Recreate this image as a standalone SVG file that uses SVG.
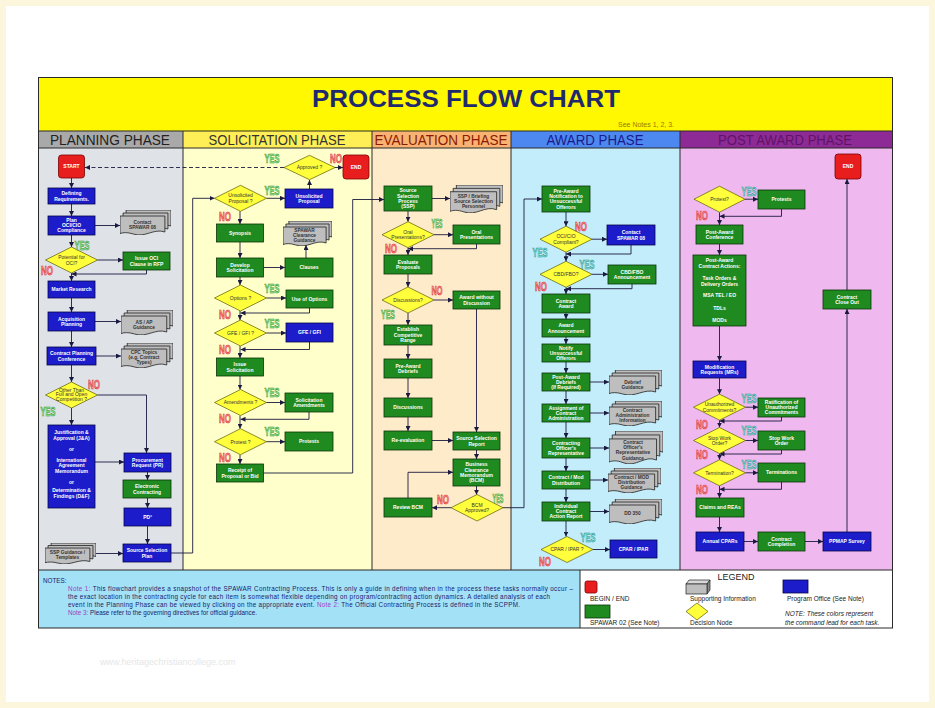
<svg xmlns="http://www.w3.org/2000/svg" width="935" height="708" viewBox="0 0 935 708">
<style>
.b{fill:#1C1CCB;stroke:#05054A;stroke-width:.8}
.g{fill:#1F8A1F;stroke:#0A330A;stroke-width:.8}
.r{fill:#E81E1E;stroke:#7A0000;stroke-width:.8}
.d{fill:#FFFF3C;stroke:#5A5A00;stroke-width:.7}
.dl{fill:#BEBEBE;stroke:#222;stroke-width:.8}
.t{font-family:"Liberation Sans",Arial,sans-serif;font-size:5px;font-weight:bold;fill:#fff;text-anchor:middle}
.td{font-family:"Liberation Sans",Arial,sans-serif;font-size:5px;fill:#333;text-anchor:middle}
.tg{font-family:"Liberation Sans",Arial,sans-serif;font-size:4.8px;font-weight:bold;fill:#333;text-anchor:middle}
.c{fill:none;stroke:#1A1A40;stroke-width:.9;marker-end:url(#a)}
.lb{font-family:"Liberation Sans",Arial,sans-serif;font-weight:bold;font-size:13px;stroke-width:.6;text-anchor:middle}
.yes{fill:#9CEB8C;stroke:#2E8B2E}
.no{fill:#FF9C9C;stroke:#D42020}
.yt{fill:#8CE8D8;stroke:#1F8B8B}
.ph{font-family:"Liberation Sans",Arial,sans-serif;font-size:14px;text-anchor:middle}
.nt{font-family:"Liberation Sans",Arial,sans-serif;font-size:6.3px;fill:#1A1A6A}
.nk{fill:#A040C0}
.lg{font-family:"Liberation Sans",Arial,sans-serif;font-size:6.5px;fill:#222}
</style>
<defs>
<marker id="a" viewBox="0 0 6 6" refX="6" refY="3" markerWidth="5" markerHeight="5" markerUnits="userSpaceOnUse" orient="auto"><path d="M0,0 L6,3 L0,6 Z" fill="#1A1A40"/></marker>
<symbol id="doc" viewBox="0 0 100 50" preserveAspectRatio="none">
<path class="dl" vector-effect="non-scaling-stroke" transform="translate(12,0)" d="M0,0 H88 V32 C66,24 50,44 26,36 C14,32 6,33 0,35 Z"/>
<path class="dl" vector-effect="non-scaling-stroke" transform="translate(6,6)" d="M0,0 H88 V32 C66,24 50,44 26,36 C14,32 6,33 0,35 Z"/>
<path class="dl" vector-effect="non-scaling-stroke" transform="translate(0,12)" d="M0,0 H88 V32 C66,24 50,44 26,36 C14,32 6,33 0,35 Z"/>
</symbol>
</defs>

<rect x="0" y="0" width="935" height="708" fill="#fff"/>
<rect x="3" y="3" width="929" height="702" fill="none" stroke="#FBF6DC" stroke-width="6"/>
<text x="100" y="665" font-family="Liberation Sans, Arial, sans-serif" font-size="9" fill="#E6E6E6">www.heritagechristiancollege.com</text>

<!-- title -->
<rect x="38.5" y="77.5" width="854" height="53.5" fill="#FFF800"/>
<text x="466" y="107" font-family="Liberation Sans, Arial, sans-serif" font-size="24" font-weight="bold" fill="#1F2A6E" text-anchor="middle" textLength="308" lengthAdjust="spacingAndGlyphs">PROCESS FLOW CHART</text>
<text x="618" y="126.5" font-family="Liberation Sans, Arial, sans-serif" font-size="7" fill="#9A7A00">See Notes 1, 2, 3.</text>

<!-- phase headers -->
<rect x="38.5" y="131" width="144.5" height="17" fill="#A9A9A9"/>
<rect x="183" y="131" width="189" height="17" fill="#FFEE55"/>
<rect x="372" y="131" width="139" height="17" fill="#F8B373"/>
<rect x="511" y="131" width="169" height="17" fill="#4D88F0"/>
<rect x="680" y="131" width="212.5" height="17" fill="#8E2A95"/>
<text class="ph" x="110" y="144.5" fill="#222" textLength="120" lengthAdjust="spacingAndGlyphs">PLANNING PHASE</text>
<text class="ph" x="277" y="144.5" fill="#333" textLength="137" lengthAdjust="spacingAndGlyphs">SOLICITATION PHASE</text>
<text class="ph" x="441" y="144.5" fill="#8B1A00" textLength="133" lengthAdjust="spacingAndGlyphs">EVALUATION PHASE</text>
<text class="ph" x="595" y="144.5" fill="#1A1A8C" textLength="97" lengthAdjust="spacingAndGlyphs">AWARD PHASE</text>
<text class="ph" x="785" y="144.5" fill="#5E1466" textLength="134" lengthAdjust="spacingAndGlyphs">POST AWARD PHASE</text>

<!-- column bodies -->
<rect x="38.5" y="148" width="144.5" height="422" fill="#DFE3E7"/>
<rect x="183" y="148" width="189" height="422" fill="#FFFFCC"/>
<rect x="372" y="148" width="139" height="422" fill="#FDEBC9"/>
<rect x="511" y="148" width="169" height="422" fill="#C3EDFA"/>
<rect x="680" y="148" width="212.5" height="422" fill="#EFB9EF"/>

<!-- notes / legend -->
<rect x="38.5" y="570" width="541.5" height="58" fill="#A3E1F7"/>
<rect x="580" y="570" width="312.5" height="58" fill="#fff"/>

<g fill="none" stroke="#2A2A2A" stroke-width="1">
<line x1="38.5" y1="131" x2="892.5" y2="131"/>
<line x1="38.5" y1="148" x2="892.5" y2="148"/>
<line x1="38.5" y1="570" x2="892.5" y2="570"/>
<line x1="183" y1="131" x2="183" y2="570"/>
<line x1="372" y1="131" x2="372" y2="570"/>
<line x1="511" y1="131" x2="511" y2="570"/>
<line x1="680" y1="131" x2="680" y2="570"/>
<line x1="580" y1="570" x2="580" y2="628"/>
<rect x="38.5" y="77.5" width="854" height="550.5"/>
</g>

<text class="nt" x="43" y="583">NOTES:</text>
<text class="nt" x="68" y="591" textLength="505"><tspan class="nk">Note 1:</tspan>  This flowchart provides a snapshot of the SPAWAR Contracting Process. This is only a guide in defining when in the process these tasks normally occur –</text>
<text class="nt" x="68" y="599" textLength="482">the exact location in the contracting cycle for each item is somewhat flexible depending on program/contracting action dynamics.  A detailed analysis of each</text>
<text class="nt" x="68" y="607" textLength="452">event in the Planning Phase can be viewed by clicking on the appropriate event. <tspan class="nk">Note 2:</tspan>  The Official Contracting Process is defined in the SCPPM.</text>
<text class="nt" x="68" y="615"><tspan class="nk">Note 3:</tspan>  Please refer to the governing directives for official guidance.</text>

<g id="legend">
<text x="736" y="580" font-family="Liberation Sans, Arial, sans-serif" font-size="9" fill="#222" text-anchor="middle">LEGEND</text>
<rect class="r" x="585" y="581" width="12" height="12" rx="2"/>
<text class="lg" x="590" y="601">BEGIN / END</text>
<path d="M686,584 L689,580 H710 L707,584 Z" fill="#D8D8D8" stroke="#222" stroke-width=".7"/>
<path d="M707,584 L710,580 V590 L707,594 Z" fill="#888" stroke="#222" stroke-width=".7"/>
<rect x="686" y="584" width="21" height="10" fill="#BEBEBE" stroke="#222" stroke-width=".7"/>
<text class="lg" x="690" y="601">Supporting Information</text>
<rect class="b" x="783" y="580" width="25" height="13"/>
<text class="lg" x="787" y="601">Program Office (See Note)</text>
<rect class="g" x="585" y="605" width="25" height="13"/>
<text class="lg" x="590" y="625">SPAWAR 02 (See Note)</text>
<polygon class="d" points="697,603 708,611.5 697,620 686,611.5"/>
<text class="lg" x="690" y="625">Decision Node</text>
<text class="lg" x="785" y="616" font-style="italic" font-size="6">NOTE:  These colors represent</text>
<text class="lg" x="785" y="624.5" font-style="italic" font-size="6">the command lead for each task.</text>
</g>

<!-- connectors -->
<g id="connectors">
<path class="c" d="M71.5,178 V188"/>
<path class="c" d="M71.5,204 V216"/>
<path class="c" d="M95,225.5 H120"/>
<path class="c" d="M71.5,235 V247"/>
<path class="c" d="M97.5,260 H123"/>
<path class="c" d="M146.5,270 V274 H71.5"/>
<path class="c" d="M71.5,273 V281"/>
<path class="c" d="M71.5,298 V312"/>
<path class="c" d="M95,321.5 H121"/>
<path class="c" d="M71.5,331 V347"/>
<path class="c" d="M96,356 H121"/>
<path class="c" d="M71.5,365 V382"/>
<path class="c" d="M97.5,395 H146.5 V453"/>
<path class="c" d="M71.5,408 V425"/>
<path class="c" d="M95,462 H124"/>
<path class="c" d="M147.5,472 V480"/>
<path class="c" d="M147.5,498 V508"/>
<path class="c" d="M147.5,526 V544"/>
<path class="c" d="M96,553.5 H123"/>
<path class="c" d="M171,553 H192.7 V198.3 H214.5"/>
<path class="c" d="M284,167.5 H85" stroke-dasharray="4 2.5"/>

<path class="c" d="M335,167.5 H343"/>
<path class="c" d="M309.5,189 V180"/>
<path class="c" d="M266.5,198.3 H285"/>
<path class="c" d="M240,211.3 V224"/>
<path class="c" d="M240,242 V258"/>
<path class="c" d="M263.5,267.5 H285"/>
<path class="c" d="M306,258 V245"/>
<path class="c" d="M240,277 V285"/>
<path class="c" d="M266.5,298 H286"/>
<path class="c" d="M309.5,308 V313 H240.5"/>
<path class="c" d="M240,311 V320"/>
<path class="c" d="M266.5,333 H286"/>
<path class="c" d="M309.5,342 V349.5 H240.5"/>
<path class="c" d="M240,346 V358"/>
<path class="c" d="M240,376 V389.5"/>
<path class="c" d="M266.5,402.5 H285"/>
<path class="c" d="M309,412 V419.3 H240.5"/>
<path class="c" d="M240,415.5 V428.7"/>
<path class="c" d="M266.5,441.7 H285"/>
<path class="c" d="M240,454.7 V464"/>
<path class="c" d="M263.5,473 H352.7 V199.5 H384"/>

<path class="c" d="M432,198.5 H450"/>
<path class="c" d="M408,211 V221.7"/>
<path class="c" d="M434,234.7 H453"/>
<path class="c" d="M476.5,244 V248.7 H408"/>
<path class="c" d="M408,247.7 V255"/>
<path class="c" d="M408,274 V287"/>
<path class="c" d="M434,300 H453"/>
<path class="c" d="M408,313 V325"/>
<path class="c" d="M408,345 V359"/>
<path class="c" d="M408,378 V398"/>
<path class="c" d="M408,417 V431"/>
<path class="c" d="M432,440.5 H453"/>
<path class="c" d="M476.5,309 V432"/>
<path class="c" d="M476.5,450 V459"/>
<path class="c" d="M476.5,486 V494.7"/>
<path class="c" d="M451,507.7 H432"/>
<path class="c" d="M408,498 V472.3 H453"/>
<path class="c" d="M503,507.7 H524 V199 H542"/>

<path class="c" d="M566,212 V226.2"/>
<path class="c" d="M592,239.2 H607"/>
<path class="c" d="M631,245 V254 H566"/>
<path class="c" d="M566,252.2 V261.3"/>
<path class="c" d="M592,274.3 H608"/>
<path class="c" d="M632,284 V288.7 H566"/>
<path class="c" d="M566,287.3 V294"/>
<path class="c" d="M566,313 V319"/>
<path class="c" d="M566,337 V344"/>
<path class="c" d="M566,362 V373"/>
<path class="c" d="M590,382 H609"/>
<path class="c" d="M566,391 V404"/>
<path class="c" d="M590,413 H609"/>
<path class="c" d="M566,422 V438"/>
<path class="c" d="M590,448 H609"/>
<path class="c" d="M566,458 V471"/>
<path class="c" d="M590,480 H608"/>
<path class="c" d="M566,489 V502"/>
<path class="c" d="M590,511.5 H609"/>
<path class="c" d="M566,521 V536.5"/>
<path class="c" d="M593,549.5 H610"/>

<path class="c" d="M745,199.2 H758"/>
<path class="c" d="M781.5,209 V216.3 H719.5"/>
<path class="c" d="M719.5,212.2 V225"/>
<path class="c" d="M719.5,244 V255"/>
<path class="c" d="M719.5,326 V361"/>
<path class="c" d="M719.5,378 V394.2"/>
<path class="c" d="M745.5,407.2 H758"/>
<path class="c" d="M781.5,417 V421 H719.5"/>
<path class="c" d="M719.5,420.2 V427.5"/>
<path class="c" d="M745.5,440.5 H758"/>
<path class="c" d="M781.5,450 V454 H719.5"/>
<path class="c" d="M719.5,453.5 V459.8"/>
<path class="c" d="M745.5,472.8 H758"/>
<path class="c" d="M781.5,482 V489.3 H719.5"/>
<path class="c" d="M719.5,485.8 V498"/>
<path class="c" d="M719.5,517 V532"/>
<path class="c" d="M744,541.5 H758"/>
<path class="c" d="M805,541.5 H823"/>
<path class="c" d="M847,532 V309"/>
<path class="c" d="M847,290 V179"/>
</g>

<!-- PLANNING -->
<g id="start"><rect class="r" x="58.5" y="155" width="26" height="23" rx="3"/><text class="t" x="71.5" y="168.3">START</text></g>
<g id="def-req"><rect class="b" x="48" y="188" width="47" height="16"/><text class="t" x="71.5" y="195">Defining<tspan x="71.5" dy="5.6">Requirements.</tspan></text></g>
<g id="plan-oci"><rect class="b" x="48" y="216" width="47" height="19"/><text class="t" x="71.5" y="221.5">Plan<tspan x="71.5" dy="5.4">OCI/CIO</tspan><tspan x="71.5" dy="5.4">Compliance</tspan></text></g>
<g id="doc-contact"><use href="#doc" x="120" y="210" width="51" height="25"/><text class="tg" x="142.5" y="223.5">Contact<tspan x="142.5" dy="5.6">SPAWAR 08</tspan></text></g>
<g id="dec-oci"><polygon class="d" points="71.5,247 97.5,260 71.5,273 45.5,260"/><text class="td" x="71.5" y="259">Potential for<tspan x="71.5" dy="5.6">OCI?</tspan></text></g>
<g id="issue-oci"><rect class="g" x="123" y="252" width="47" height="18"/><text class="t" x="146.5" y="260">Issue OCI<tspan x="146.5" dy="5.6">Clause in RFP</tspan></text></g>
<g id="market"><rect class="b" x="48" y="281" width="47" height="17"/><text class="t" x="71.5" y="291.3">Market Research</text></g>
<g id="acq"><rect class="b" x="48" y="312" width="47" height="19"/><text class="t" x="71.5" y="320.5">Acquisition<tspan x="71.5" dy="5.6">Planning</tspan></text></g>
<g id="doc-asap"><use href="#doc" x="121" y="310" width="52" height="25"/><text class="tg" x="144" y="323.5">AS / AP<tspan x="144" dy="5.6">Guidance</tspan></text></g>
<g id="cpc"><rect class="b" x="47" y="347" width="49" height="18"/><text class="t" x="71.5" y="355">Contract Planning<tspan x="71.5" dy="5.6">Conference</tspan></text></g>
<g id="doc-cpc"><use href="#doc" x="121" y="343" width="52" height="25"/><text class="tg" x="144" y="354">CPC Topics<tspan x="144" dy="5.2">(e.g. Contract</tspan><tspan x="144" dy="5.2">Types)</tspan></text></g>
<g id="dec-foc"><polygon class="d" points="71.5,382 97.5,395 71.5,408 45.5,395"/><text class="td" x="71.5" y="391.5" font-size="4.2">Other Than<tspan x="71.5" dy="4.8">Full and Open</tspan><tspan x="71.5" dy="4.8">Competition ?</tspan></text></g>
<g id="jna"><rect class="b" x="48" y="425" width="47" height="83"/><text class="t" x="71.5" y="434">Justification &amp;<tspan x="71.5" dy="6">Approval (J&amp;A)</tspan><tspan x="71.5" dy="11">or</tspan><tspan x="71.5" dy="10.5">International</tspan><tspan x="71.5" dy="5.5">Agreement</tspan><tspan x="71.5" dy="5.5">Memorandum</tspan><tspan x="71.5" dy="11">or</tspan><tspan x="71.5" dy="8.5">Determination &amp;</tspan><tspan x="71.5" dy="6">Findings (D&amp;F)</tspan></text></g>
<g id="pr"><rect class="b" x="124" y="453" width="47" height="19"/><text class="t" x="147.5" y="461.5">Procurement<tspan x="147.5" dy="5.6">Request (PR)</tspan></text></g>
<g id="econ"><rect class="g" x="123" y="480" width="48" height="18"/><text class="t" x="147" y="488">Electronic<tspan x="147" dy="5.6">Contracting</tspan></text></g>
<g id="pd2"><rect class="b" x="124" y="508" width="47" height="18"/><text class="t" x="147.5" y="518.8">PD²</text></g>
<g id="ss-plan"><rect class="b" x="123" y="544" width="48" height="18"/><text class="t" x="147" y="552">Source Selection<tspan x="147" dy="5.6">Plan</tspan></text></g>
<g id="doc-ssp"><use href="#doc" x="45" y="543" width="51" height="21"/><text class="tg" x="67.5" y="554">SSP Guidance /<tspan x="67.5" dy="5.4">Templates</tspan></text></g>

<!-- SOLICITATION -->
<g id="dec-approved"><polygon class="d" points="309.5,155.3 335,167.5 309.5,179.7 284,167.5"/><text class="td" x="309.5" y="169.3">Approved ?</text></g>
<g id="end1"><rect class="r" x="343" y="155" width="26" height="24" rx="3"/><text class="t" x="356" y="168.8">END</text></g>
<g id="unsol-box"><rect class="b" x="285" y="189" width="48" height="19"/><text class="t" x="309" y="197.5">Unsolicited<tspan x="309" dy="5.6">Proposal</tspan></text></g>
<g id="dec-unsol"><polygon class="d" points="240.5,185.3 266.5,198.3 240.5,211.3 214.5,198.3"/><text class="td" x="240.5" y="197.3">Unsolicited<tspan x="240.5" dy="5.6">Proposal ?</tspan></text></g>
<g id="synopsis"><rect class="g" x="216.5" y="224" width="47" height="18"/><text class="t" x="240" y="234.8">Synopsis</text></g>
<g id="dev-sol"><rect class="g" x="216.5" y="258" width="47" height="19"/><text class="t" x="240" y="266.5">Develop<tspan x="240" dy="5.6">Solicitation</tspan></text></g>
<g id="clauses"><rect class="g" x="285" y="258" width="48" height="19"/><text class="t" x="309" y="269.3">Clauses</text></g>
<g id="doc-clear"><use href="#doc" x="283" y="221" width="49" height="25"/><text class="tg" x="304.5" y="232" font-size="4.5">SPAWAR<tspan x="304.5" dy="5">Clearance</tspan><tspan x="304.5" dy="5">Guidance</tspan></text></g>
<g id="dec-options"><polygon class="d" points="240.5,285 266.5,298 240.5,311 214.5,298"/><text class="td" x="240.5" y="299.8">Options ?</text></g>
<g id="use-options"><rect class="g" x="286" y="290" width="47" height="18"/><text class="t" x="309.5" y="300.8">Use of Options</text></g>
<g id="dec-gfe"><polygon class="d" points="240.5,320 266.5,333 240.5,346 214.5,333"/><text class="td" x="240.5" y="334.8">GFE / GFI ?</text></g>
<g id="gfe"><rect class="b" x="286" y="323" width="47" height="19"/><text class="t" x="309.5" y="334.3">GFE / GFI</text></g>
<g id="issue-sol"><rect class="g" x="216.5" y="358" width="47" height="18"/><text class="t" x="240" y="366">Issue<tspan x="240" dy="5.6">Solicitation</tspan></text></g>
<g id="dec-amend"><polygon class="d" points="240.5,389.5 266.5,402.5 240.5,415.5 214.5,402.5"/><text class="td" x="240.5" y="404.3">Amendments ?</text></g>
<g id="sol-amend"><rect class="g" x="285" y="393" width="48" height="19"/><text class="t" x="309" y="401.5">Solicitation<tspan x="309" dy="5.6">Amendments</tspan></text></g>
<g id="dec-protest"><polygon class="d" points="240.5,428.7 266.5,441.7 240.5,454.7 214.5,441.7"/><text class="td" x="240.5" y="443.5">Protest ?</text></g>
<g id="protests1"><rect class="g" x="285" y="432" width="48" height="19"/><text class="t" x="309" y="443.3">Protests</text></g>
<g id="receipt"><rect class="g" x="216.5" y="464" width="47" height="18"/><text class="t" x="240" y="472">Receipt of<tspan x="240" dy="5.6">Proposal or Bid</tspan></text></g>

<!-- EVALUATION -->
<g id="ssp"><rect class="g" x="384" y="186" width="48" height="25"/><text class="t" x="408" y="192.4">Source<tspan x="408" dy="5.2">Selection</tspan><tspan x="408" dy="5.2">Process</tspan><tspan x="408" dy="5.2">(SSP)</tspan></text></g>
<g id="doc-brief"><use href="#doc" x="450" y="185" width="53" height="28"/><text class="tg" x="473.5" y="197.7">SSP / Briefing<tspan x="473.5" dy="5.2">Source Selection</tspan><tspan x="473.5" dy="5.2">Personnel</tspan></text></g>
<g id="dec-oral"><polygon class="d" points="408,221.7 434,234.7 408,247.7 382,234.7"/><text class="td" x="408" y="233.7">Oral<tspan x="408" dy="5.6">Presentations?</tspan></text></g>
<g id="oral"><rect class="g" x="453" y="225" width="47" height="19"/><text class="t" x="476.5" y="233.5">Oral<tspan x="476.5" dy="5.6">Presentations</tspan></text></g>
<g id="evaluate"><rect class="g" x="384" y="255" width="48" height="19"/><text class="t" x="408" y="263.5">Evaluate<tspan x="408" dy="5.6">Proposals</tspan></text></g>
<g id="dec-disc"><polygon class="d" points="408,287 434,300 408,313 382,300"/><text class="td" x="408" y="301.8">Discussions?</text></g>
<g id="award-wo"><rect class="g" x="453" y="291" width="47" height="18"/><text class="t" x="476.5" y="299">Award without<tspan x="476.5" dy="5.6">Discussion</tspan></text></g>
<g id="ecr"><rect class="g" x="384" y="325" width="48" height="20"/><text class="t" x="408" y="331.2">Establish<tspan x="408" dy="5.6">Competitive</tspan><tspan x="408" dy="5.6">Range</tspan></text></g>
<g id="pre-debrief"><rect class="g" x="384" y="359" width="48" height="19"/><text class="t" x="408" y="367.5">Pre-Award<tspan x="408" dy="5.6">Debriefs</tspan></text></g>
<g id="discussions"><rect class="g" x="384" y="398" width="48" height="19"/><text class="t" x="408" y="409.3">Discussions</text></g>
<g id="reeval"><rect class="g" x="384" y="431" width="48" height="19"/><text class="t" x="408" y="442.3">Re-evaluation</text></g>
<g id="ssr"><rect class="g" x="453" y="432" width="47" height="18"/><text class="t" x="476.5" y="440">Source Selection<tspan x="476.5" dy="5.6">Report</tspan></text></g>
<g id="bcm"><rect class="g" x="453" y="459" width="47" height="27"/><text class="t" x="476.5" y="466.1">Business<tspan x="476.5" dy="5.4">Clearance</tspan><tspan x="476.5" dy="5.4">Memorandum</tspan><tspan x="476.5" dy="5.4">(BCM)</tspan></text></g>
<g id="dec-bcm"><polygon class="d" points="477,494.5 503,507.7 477,521 451,507.7"/><text class="td" x="477" y="506.7">BCM<tspan x="477" dy="5.6">Approved?</tspan></text></g>
<g id="review-bcm"><rect class="g" x="384" y="498" width="48" height="19"/><text class="t" x="408" y="509.3">Review BCM</text></g>

<!-- AWARD -->
<g id="pre-notif"><rect class="g" x="542" y="186" width="48" height="26"/><text class="t" x="566" y="192.6">Pre-Award<tspan x="566" dy="5.4">Notification to</tspan><tspan x="566" dy="5.4">Unsuccessful</tspan><tspan x="566" dy="5.4">Offerors</tspan></text></g>
<g id="dec-oci2"><polygon class="d" points="566,226.2 592,239.2 566,252.2 540,239.2"/><text class="td" x="566" y="238.2">OCI/CIO<tspan x="566" dy="5.6">Compliant?</tspan></text></g>
<g id="contact2"><rect class="b" x="607" y="225" width="48" height="20"/><text class="t" x="631" y="234">Contact<tspan x="631" dy="5.6">SPAWAR 08</tspan></text></g>
<g id="dec-cbd"><polygon class="d" points="566,261.3 592,274.3 566,287.3 540,274.3"/><text class="td" x="566" y="276.1">CBD/FBO?</text></g>
<g id="cbd"><rect class="g" x="608" y="265" width="48" height="19"/><text class="t" x="632" y="273.5">CBD/FBO<tspan x="632" dy="5.6">Announcement</tspan></text></g>
<g id="contract-award"><rect class="g" x="542" y="294" width="48" height="19"/><text class="t" x="566" y="302.5">Contract<tspan x="566" dy="5.6">Award</tspan></text></g>
<g id="award-ann"><rect class="g" x="542" y="319" width="48" height="18"/><text class="t" x="566" y="327">Award<tspan x="566" dy="5.6">Announcement</tspan></text></g>
<g id="notify"><rect class="g" x="542" y="344" width="48" height="18"/><text class="t" x="566" y="349.5">Notify<tspan x="566" dy="5.2">Unsuccessful</tspan><tspan x="566" dy="5.2">Offerors</tspan></text></g>
<g id="post-debrief"><rect class="g" x="542" y="373" width="48" height="18"/><text class="t" x="566" y="378.5">Post-Award<tspan x="566" dy="5.2">Debriefs</tspan><tspan x="566" dy="5.2">(If Required)</tspan></text></g>
<g id="doc-debrief"><use href="#doc" x="609" y="370" width="53" height="25"/><text class="tg" x="632.5" y="383.5">Debrief<tspan x="632.5" dy="5.6">Guidance</tspan></text></g>
<g id="assign"><rect class="g" x="542" y="404" width="48" height="18"/><text class="t" x="566" y="409.5">Assignment of<tspan x="566" dy="5.2">Contract</tspan><tspan x="566" dy="5.2">Administration</tspan></text></g>
<g id="doc-ca"><use href="#doc" x="609" y="401" width="53" height="25"/><text class="tg" x="632.5" y="412">Contract<tspan x="632.5" dy="5.2">Administration</tspan><tspan x="632.5" dy="5.2">Information</tspan></text></g>
<g id="cor"><rect class="g" x="542" y="438" width="48" height="20"/><text class="t" x="566" y="444.5">Contracting<tspan x="566" dy="5.2">Officer's</tspan><tspan x="566" dy="5.2">Representative</tspan></text></g>
<g id="doc-cor"><use href="#doc" x="609" y="431" width="54" height="33"/><text class="tg" x="633" y="444">Contract<tspan x="633" dy="5.2">Officer's</tspan><tspan x="633" dy="5.2">Representative</tspan><tspan x="633" dy="5.2">Guidance</tspan></text></g>
<g id="distrib"><rect class="g" x="542" y="471" width="48" height="18"/><text class="t" x="566" y="479">Contract / Mod<tspan x="566" dy="5.6">Distribution</tspan></text></g>
<g id="doc-distrib"><use href="#doc" x="608" y="468" width="53" height="25"/><text class="tg" x="631.5" y="479">Contract / MOD<tspan x="631.5" dy="5.2">Distribution</tspan><tspan x="631.5" dy="5.2">Guidance</tspan></text></g>
<g id="icar"><rect class="g" x="542" y="502" width="48" height="19"/><text class="t" x="566" y="508">Individual<tspan x="566" dy="5.2">Contract</tspan><tspan x="566" dy="5.2">Action Report</tspan></text></g>
<g id="doc-dd350"><use href="#doc" x="609" y="499" width="53" height="25"/><text class="tg" x="632.5" y="515.3">DD 350</text></g>
<g id="dec-cpar"><polygon class="d" points="567,536.5 593,549.5 567,562.5 541,549.5"/><text class="td" x="567" y="551.3">CPAR / IPAR ?</text></g>
<g id="cpar"><rect class="b" x="610" y="540" width="47" height="18"/><text class="t" x="633.5" y="550.8">CPAR / IPAR</text></g>

<!-- POST AWARD -->
<g id="end2"><rect class="r" x="835" y="154" width="26" height="25" rx="3"/><text class="t" x="848" y="168.3">END</text></g>
<g id="dec-protest2"><polygon class="d" points="719.5,186.2 745,199.2 719.5,212.2 694,199.2"/><text class="td" x="719.5" y="201">Protest?</text></g>
<g id="protests2"><rect class="g" x="758" y="190" width="47" height="19"/><text class="t" x="781.5" y="201.3">Protests</text></g>
<g id="pac"><rect class="g" x="696" y="225" width="47" height="19"/><text class="t" x="719.5" y="233.5">Post-Award<tspan x="719.5" dy="5.6">Conference</tspan></text></g>
<g id="pca"><rect class="g" x="693" y="255" width="53" height="71"/><text class="t" x="719.5" y="262">Post-Award<tspan x="719.5" dy="6">Contract Actions:</tspan><tspan x="719.5" dy="11.7">Task Orders &amp;</tspan><tspan x="719.5" dy="6">Delivery Orders</tspan><tspan x="719.5" dy="11.7">MSA TEL / EO</tspan><tspan x="719.5" dy="12.3">TDLs</tspan><tspan x="719.5" dy="12.7">MODs</tspan></text></g>
<g id="closeout"><rect class="g" x="823" y="290" width="48" height="19"/><text class="t" x="847" y="298.5">Contract<tspan x="847" dy="5.6">Close Out</tspan></text></g>
<g id="mrs"><rect class="b" x="693" y="361" width="53" height="17"/><text class="t" x="719.5" y="368.5">Modification<tspan x="719.5" dy="5.6">Requests (MRs)</tspan></text></g>
<g id="dec-unauth"><polygon class="d" points="719.5,394.2 745.5,407.2 719.5,420.2 693.5,407.2"/><text class="td" x="719.5" y="406.2">Unauthorized<tspan x="719.5" dy="5.6">Commitments?</tspan></text></g>
<g id="ratif"><rect class="g" x="758" y="398" width="47" height="19"/><text class="t" x="781.5" y="404" font-size="4.6">Ratification of<tspan x="781.5" dy="5">Unauthorized</tspan><tspan x="781.5" dy="5">Commitments</tspan></text></g>
<g id="dec-swo"><polygon class="d" points="719.5,427.5 745.5,440.5 719.5,453.5 693.5,440.5"/><text class="td" x="719.5" y="439.5">Stop Work<tspan x="719.5" dy="5.6">Order?</tspan></text></g>
<g id="swo"><rect class="g" x="758" y="431" width="47" height="19"/><text class="t" x="781.5" y="439.5">Stop Work<tspan x="781.5" dy="5.6">Order</tspan></text></g>
<g id="dec-term"><polygon class="d" points="719.5,459.8 745.5,472.8 719.5,485.8 693.5,472.8"/><text class="td" x="719.5" y="474.6">Termination?</text></g>
<g id="term"><rect class="g" x="758" y="463" width="47" height="19"/><text class="t" x="781.5" y="474.3">Terminations</text></g>
<g id="claims"><rect class="g" x="696" y="498" width="48" height="19"/><text class="t" x="720" y="509.3">Claims and REAs</text></g>
<g id="annual-cpars"><rect class="b" x="696" y="532" width="48" height="19"/><text class="t" x="720" y="543.3">Annual CPARs</text></g>
<g id="completion"><rect class="g" x="758" y="532" width="47" height="19"/><text class="t" x="781.5" y="540.5">Contract<tspan x="781.5" dy="5.6">Completion</tspan></text></g>
<g id="ppmap"><rect class="b" x="823" y="532" width="48" height="19"/><text class="t" x="847" y="543.3">PPMAP Survey</text></g>

<!-- YES / NO labels -->
<g id="labels">
<text class="lb yes" x="82" y="250" textLength="15" lengthAdjust="spacingAndGlyphs">YES</text>
<text class="lb no" x="47" y="275" textLength="12" lengthAdjust="spacingAndGlyphs">NO</text>
<text class="lb no" x="94" y="389" textLength="12" lengthAdjust="spacingAndGlyphs">NO</text>
<text class="lb yes" x="48" y="416" textLength="15" lengthAdjust="spacingAndGlyphs">YES</text>

<text class="lb yes" x="272" y="163" textLength="15" lengthAdjust="spacingAndGlyphs">YES</text>
<text class="lb no" x="336" y="163" textLength="12" lengthAdjust="spacingAndGlyphs">NO</text>
<text class="lb yes" x="272" y="195" textLength="15" lengthAdjust="spacingAndGlyphs">YES</text>
<text class="lb no" x="225" y="221" textLength="12" lengthAdjust="spacingAndGlyphs">NO</text>
<text class="lb yes" x="272" y="293" textLength="15" lengthAdjust="spacingAndGlyphs">YES</text>
<text class="lb no" x="225" y="319" textLength="12" lengthAdjust="spacingAndGlyphs">NO</text>
<text class="lb yes" x="272" y="328" textLength="15" lengthAdjust="spacingAndGlyphs">YES</text>
<text class="lb no" x="225" y="354" textLength="12" lengthAdjust="spacingAndGlyphs">NO</text>
<text class="lb yes" x="272" y="397" textLength="15" lengthAdjust="spacingAndGlyphs">YES</text>
<text class="lb no" x="225" y="423" textLength="12" lengthAdjust="spacingAndGlyphs">NO</text>
<text class="lb yes" x="272" y="436" textLength="15" lengthAdjust="spacingAndGlyphs">YES</text>
<text class="lb no" x="225" y="462" textLength="12" lengthAdjust="spacingAndGlyphs">NO</text>

<text class="lb yes" x="437" y="228" textLength="11" lengthAdjust="spacingAndGlyphs">YES</text>
<text class="lb no" x="391" y="253" textLength="12" lengthAdjust="spacingAndGlyphs">NO</text>
<text class="lb no" x="437" y="295" textLength="11" lengthAdjust="spacingAndGlyphs">NO</text>
<text class="lb yes" x="388" y="319" textLength="14" lengthAdjust="spacingAndGlyphs">YES</text>
<text class="lb no" x="443" y="504" textLength="12" lengthAdjust="spacingAndGlyphs">NO</text>
<text class="lb yes" x="498" y="503" textLength="11" lengthAdjust="spacingAndGlyphs">YES</text>

<text class="lb no" x="581" y="231" textLength="12" lengthAdjust="spacingAndGlyphs">NO</text>
<text class="lb yt" x="540" y="257" textLength="15" lengthAdjust="spacingAndGlyphs">YES</text>
<text class="lb yt" x="587" y="269" textLength="15" lengthAdjust="spacingAndGlyphs">YES</text>
<text class="lb no" x="541" y="291" textLength="12" lengthAdjust="spacingAndGlyphs">NO</text>
<text class="lb yt" x="588" y="542" textLength="15" lengthAdjust="spacingAndGlyphs">YES</text>
<text class="lb no" x="545" y="566" textLength="12" lengthAdjust="spacingAndGlyphs">NO</text>

<text class="lb yt" x="749" y="196" textLength="15" lengthAdjust="spacingAndGlyphs">YES</text>
<text class="lb no" x="702" y="220" textLength="12" lengthAdjust="spacingAndGlyphs">NO</text>
<text class="lb yt" x="749" y="403" textLength="15" lengthAdjust="spacingAndGlyphs">YES</text>
<text class="lb no" x="702" y="429" textLength="12" lengthAdjust="spacingAndGlyphs">NO</text>
<text class="lb yt" x="749" y="435" textLength="15" lengthAdjust="spacingAndGlyphs">YES</text>
<text class="lb no" x="702" y="459" textLength="12" lengthAdjust="spacingAndGlyphs">NO</text>
<text class="lb yt" x="749" y="469" textLength="15" lengthAdjust="spacingAndGlyphs">YES</text>
<text class="lb no" x="702" y="494" textLength="12" lengthAdjust="spacingAndGlyphs">NO</text>
</g>
</svg>
